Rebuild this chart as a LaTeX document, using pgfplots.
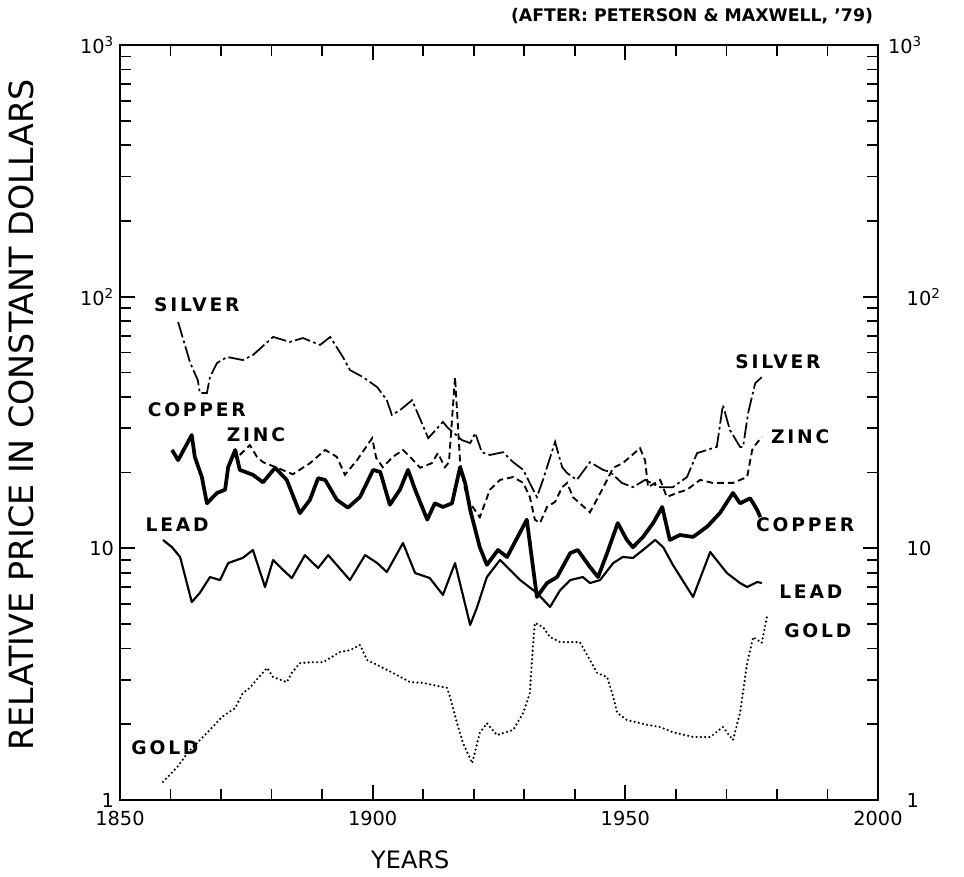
\documentclass[border=0pt]{standalone}
\usepackage{fontspec}
\setmainfont{DejaVu Sans}
\newfontfamily\lblfont[LetterSpace=15]{DejaVu Sans}
\usepackage{pgfplots}
\pgfplotsset{compat=1.18}
\tikzset{lbl/.style={font=\lblfont\bfseries\fontsize{14}{16}\selectfont, inner sep=0pt}}
\begin{document}
\begin{tikzpicture}
\useasboundingbox (-90pt,-57pt) rectangle (633pt,600pt);
\begin{axis}[
  at={(0pt,0pt)}, anchor=south west,
  scale only axis, width=568.5pt, height=566.25pt,
  clip=false,
  xmin=1850, xmax=2000, ymode=log, ymin=1, ymax=1000,
  xtick={1850,1900,1950,2000}, xticklabels={1850,1900,1950,2000},
  minor x tick num=4,
  ytick={1,10,100,1000}, yticklabels={1,10,10\textsuperscript{2},10\textsuperscript{3}},
  yminorticks=true,
  tick align=inside,
  major tick length=11pt, minor tick length=8pt,
  axis line style={line width=1.6pt},
  tick style={black, line width=1.3pt},
  tick label style={font=\fontsize{14.5}{16}\selectfont},
  xticklabel style={yshift=-5pt},
  yticklabel style={xshift=-1pt},
  every axis x label/.style={at={(axis description cs:0.383,0)}, yshift=-45pt, anchor=center, font=\fontsize{18}{20}\selectfont},
  every axis y label/.style={at={(axis description cs:0,0.51)}, xshift=-74pt, rotate=90, anchor=center, font=\fontsize{25}{28}\selectfont},
  xlabel={YEARS}, ylabel={RELATIVE PRICE IN CONSTANT DOLLARS},
]
% SILVER
\addplot[black, line width=1.3pt, dash pattern=on 12pt off 2.5pt on 2pt off 2.5pt] coordinates {
(1861.5,79.3)(1863.9,54.5)(1865.4,46.6)(1865.8,41.4)(1867.2,41.4)(1867.8,47.9)(1869.2,54.5)(1871.2,57.6)(1874.3,56.0)(1876.3,58.6)(1880.3,69.2)(1883.6,66.1)(1886.2,68.5)(1889.6,64.3)(1891.6,69.2)(1894.1,57.6)(1895.5,51.1)(1898.1,47.9)(1900.9,43.7)(1902.8,38.8)(1903.8,33.9)(1905.4,35.4)(1907.8,38.8)(1911.0,27.4)(1913.9,31.8)(1914.9,30.1)(1917.7,26.9)(1919.3,26.2)(1920.3,28.7)(1921.6,24.1)(1923.2,23.5)(1925.8,24.1)(1927.8,22.0)(1929.8,20.5)(1931.5,17.5)(1932.5,16.0)(1933.7,18.7)(1936.1,26.5)(1937.5,21.0)(1938.5,19.9)(1940.4,18.7)(1943.0,22.0)(1945.6,20.5)(1947.0,20.1)(1949.3,18.2)(1951.5,17.5)(1953.9,18.7)(1956.9,17.5)(1959.4,17.5)(1962.2,19.2)(1964.2,23.9)(1966.2,24.6)(1968.1,25.3)(1969.3,37.1)(1970.7,29.5)(1972.7,25.3)(1973.3,25.3)(1974.3,34.5)(1975.7,45.3)(1977.0,47.9)
};
% ZINC
\addplot[black, line width=1.4pt, dash pattern=on 5pt off 3pt] coordinates {
(1873.7,23.5)(1875.7,25.7)(1877.1,23.1)(1878.3,22.0)(1881.1,20.9)(1884.2,19.7)(1887.6,21.8)(1890.6,24.6)(1892.9,23.1)(1894.5,19.6)(1896.9,22.4)(1899.9,27.4)(1900.7,22.9)(1902.0,21.0)(1904.0,23.1)(1906.0,24.6)(1907.4,23.1)(1909.4,20.9)(1911.7,21.8)(1912.9,23.9)(1914.3,21.0)(1915.1,22.0)(1916.3,47.9)(1917.3,22.0)(1918.3,17.1)(1919.3,15.1)(1921.2,13.3)(1923.2,17.1)(1925.2,18.7)(1927.8,19.2)(1929.8,18.2)(1931.1,16.0)(1932.1,13.0)(1933.1,12.6)(1934.5,14.6)(1936.1,15.3)(1937.5,17.5)(1938.5,18.2)(1939.6,16.0)(1943.0,13.9)(1945.4,17.1)(1947.6,20.9)(1949.5,21.8)(1952.9,25.0)(1953.9,22.4)(1954.5,17.5)(1956.9,18.7)(1958.2,16.0)(1960.2,16.6)(1962.2,17.1)(1964.8,18.7)(1967.3,18.2)(1971.3,18.2)(1974.1,19.2)(1975.1,24.6)(1975.7,25.7)(1977.0,27.7)
};
% COPPER
\addplot[black, line width=2.8pt, line join=round] coordinates {
(1860.3,24.6)(1861.5,22.4)(1864.2,28.2)(1864.8,23.1)(1866.2,19.2)(1867.2,15.1)(1869.2,16.6)(1870.8,17.1)(1871.4,21.0)(1872.8,24.6)(1873.7,20.5)(1876.3,19.6)(1878.3,18.3)(1880.7,20.9)(1883.0,18.7)(1885.6,13.8)(1887.6,15.6)(1889.2,19.0)(1890.6,18.7)(1892.9,15.6)(1895.1,14.5)(1897.5,16.0)(1900.1,20.5)(1901.5,20.1)(1903.4,14.9)(1905.4,17.1)(1907.0,20.5)(1908.4,17.1)(1910.8,13.0)(1912.3,15.1)(1913.9,14.6)(1915.7,15.1)(1917.3,21.0)(1918.3,18.2)(1919.3,14.2)(1921.2,10.1)(1922.6,8.6)(1924.8,9.85)(1926.6,9.24)(1930.5,13.0)(1932.5,6.41)(1934.5,7.28)(1936.5,7.69)(1939.1,9.58)(1940.6,9.85)(1943.0,8.43)(1944.6,7.69)(1946.4,9.58)(1948.5,12.6)(1950.3,10.8)(1951.5,10.1)(1953.5,11.1)(1955.5,12.6)(1957.3,14.6)(1958.8,10.8)(1960.8,11.3)(1963.4,11.1)(1966.2,12.2)(1968.7,13.8)(1971.3,16.6)(1972.7,15.1)(1974.7,15.8)(1976.1,14.2)(1976.7,13.3)
};
% LEAD
\addplot[black, line width=1.6pt, line join=round] coordinates {
(1858.5,10.8)(1860.3,10.1)(1861.9,9.24)(1864.2,6.12)(1865.8,6.65)(1867.8,7.69)(1869.8,7.48)(1871.4,8.74)(1874.3,9.16)(1876.3,9.85)(1878.7,7.02)(1880.3,8.99)(1882.3,8.20)(1884.0,7.62)(1886.6,9.40)(1889.2,8.35)(1891.2,9.40)(1895.5,7.48)(1898.5,9.40)(1900.9,8.74)(1902.8,8.05)(1906.0,10.5)(1908.4,7.98)(1911.3,7.62)(1913.9,6.53)(1916.3,8.74)(1919.3,4.96)(1920.6,5.79)(1922.6,7.69)(1925.2,8.99)(1927.2,8.20)(1929.2,7.48)(1932.5,6.65)(1935.1,5.85)(1937.1,6.82)(1939.1,7.48)(1941.6,7.69)(1943.0,7.28)(1945.0,7.48)(1947.6,8.74)(1949.5,9.24)(1951.5,9.16)(1953.5,9.85)(1955.9,10.8)(1957.5,10.1)(1959.4,8.6)(1963.4,6.41)(1966.8,9.67)(1970.1,7.98)(1972.7,7.28)(1974.1,7.02)(1976.1,7.35)(1977.0,7.28)
};
% GOLD
\addplot[black, line width=1.8pt, line cap=round, dash pattern=on 0pt off 3.2pt] coordinates {
(1858.5,1.18)(1861.3,1.35)(1863.5,1.55)(1865.8,1.73)(1867.8,1.90)(1870.2,2.14)(1872.8,2.32)(1874.3,2.66)(1875.7,2.79)(1877.3,3.05)(1879.1,3.35)(1880.3,3.08)(1883.0,2.94)(1884.0,3.20)(1885.6,3.50)(1888.2,3.53)(1890.2,3.53)(1893.5,3.87)(1895.5,3.94)(1897.5,4.13)(1898.9,3.60)(1900.9,3.44)(1904.0,3.20)(1907.4,2.94)(1910.0,2.92)(1914.7,2.79)(1915.3,2.57)(1916.7,2.02)(1917.9,1.68)(1919.7,1.40)(1921.2,1.85)(1922.6,2.02)(1924.6,1.81)(1927.8,1.90)(1929.8,2.22)(1931.1,2.66)(1931.7,4.05)(1932.1,5.05)(1933.7,4.87)(1935.1,4.44)(1937.1,4.24)(1941.0,4.24)(1943.0,3.60)(1944.4,3.20)(1946.4,3.08)(1947.6,2.57)(1948.4,2.22)(1950.3,2.08)(1954.3,1.99)(1956.9,1.95)(1959.4,1.86)(1963.4,1.78)(1966.8,1.78)(1969.3,1.95)(1971.3,1.73)(1972.7,2.22)(1974.1,3.50)(1975.3,4.44)(1977.0,4.21)(1978.0,5.33)
};
% series labels
\node[lbl] at (axis cs:1865.2,92.7) {SILVER};
\node[lbl] at (axis cs:1865.2,35.4) {COPPER};
\node[lbl] at (axis cs:1876.9,28.2) {ZINC};
\node[lbl] at (axis cs:1861.3,12.4) {LEAD};
\node[lbl] at (axis cs:1858.9,1.62) {GOLD};
\node[lbl] at (axis cs:1980.2,55.0) {SILVER};
\node[lbl] at (axis cs:1984.6,27.7) {ZINC};
\node[lbl] at (axis cs:1985.6,12.4) {COPPER};
\node[lbl] at (axis cs:1986.7,6.71) {LEAD};
\node[lbl] at (axis cs:1988.1,4.69) {GOLD};
% right tick labels
\node[anchor=west, font=\fontsize{14.5}{16}\selectfont] at (axis cs:2000,1000) [xshift=4pt] {10\textsuperscript{3}};
\node[anchor=west, font=\fontsize{14.5}{16}\selectfont] at (axis cs:2000,100) [xshift=18pt] {10\textsuperscript{2}};
\node[anchor=west, font=\fontsize{14.5}{16}\selectfont] at (axis cs:2000,10) [xshift=18pt] {10};
\node[anchor=west, font=\fontsize{14.5}{16}\selectfont] at (axis cs:2000,1) [xshift=18pt] {1};
% source note
\node[anchor=south, font=\bfseries\fontsize{13}{16}\selectfont] at (axis cs:1963.2,1000) [yshift=12pt] {(AFTER: PETERSON \& MAXWELL, '79)};
\end{axis}
\end{tikzpicture}
\end{document}
